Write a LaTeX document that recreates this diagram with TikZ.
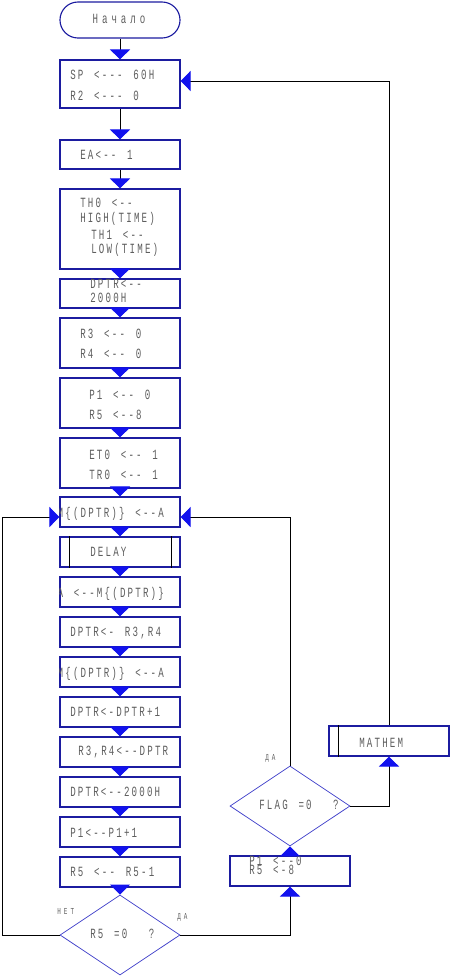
\documentclass[tikz,border=0pt]{standalone}
\usepackage{fontspec}
\usetikzlibrary{arrows.meta,shapes.geometric}
\newfontfamily\flowfont[FakeStretch=0.65,LetterSpace=15.6,WordSpace={1.4,0,0}]{Liberation Mono}
\newfontfamily\startfont[FakeStretch=0.65,LetterSpace=28]{Liberation Mono}
\newfontfamily\tagfont[FakeStretch=0.65,LetterSpace=34]{Liberation Mono}
\definecolor{boxc}{HTML}{1C1CA0}
\definecolor{diac}{HTML}{3A3AC8}
\definecolor{tric}{HTML}{1212EE}
\definecolor{txtc}{HTML}{5E5E5E}

\begin{document}
\begin{tikzpicture}[x=0.025cm, y=-0.025cm,
  blk/.style={draw=boxc, line width=0.8pt, minimum width=3cm, inner sep=0},
  dia/.style={diamond, draw=diac, line width=0.5pt, minimum width=3cm,
              minimum height=2cm, inner sep=0},
  lbl/.style={anchor=west, inner sep=0, color=txtc,
              font=\flowfont\fontsize{10}{12}\selectfont},
  tag/.style={anchor=west, inner sep=0, color=txtc,
              font=\tagfont\fontsize{6.5}{8}\selectfont},
  wire/.style={draw=black, line width=0.7pt},
  flow/.style={wire, -{Triangle[length=0.25cm, width=0.5cm, color=tric]}}]

\useasboundingbox (0,0) rectangle (450,976);

% main column
\node[blk, rounded corners=0.45cm, minimum height=0.9cm] (start) at (120,20) {};
\node[inner sep=0, color=txtc, font=\startfont\fontsize{10}{12}\selectfont]
  (tstart) at (119,19) {Начало};

\foreach \n/\yc/\h in {1/84/48, 2/154.5/29, 3/229/80, 4/293.5/29, 5/343/50,
  6/403/50, 7/463/50, 8/512/30, 9/552/30, 10/592/30, 11/632/30, 12/672/30,
  13/712/30, 14/752/30, 15/792/30, 16/832/30, 17/872/30}{
  \node[blk, minimum height=\h*0.025cm] (b\n) at (120,\yc) {};
}
\node[dia] (d1) at (120,935) {};

% right branch
\node[blk, minimum height=0.75cm] (pr) at (290,871) {};
\node[dia] (d2) at (290,806) {};
\node[blk, minimum height=0.75cm] (mth) at (389,741) {};

\draw[wire] ([xshift=0.25cm]b9.north west) -- ([xshift=0.25cm]b9.south west);
\draw[wire] ([xshift=-0.225cm]b9.north east) -- ([xshift=-0.225cm]b9.south east);
\draw[wire] ([xshift=0.25cm]mth.north west) -- ([xshift=0.25cm]mth.south west);

\foreach \tx/\ty/\s [count=\i] in {%
  70/75/{SP <--- 60H}, 70/96/{R2 <--- 0}, 80/155/{EA<-- 1},
  80/203/{TH0 <--}, 80/219/{HIGH(TIME)}, 91/235/{TH1 <--}, 91/250/{LOW(TIME)},
  90/284/{DPTR<--}, 90/298/{2000H}, 80/334/{R3 <-- 0}, 80/354/{R4 <-- 0},
  89/395/{P1 <-- 0}, 89/415/{R5 <--8}, 89/455/{ET0 <-- 1}, 89/475/{TR0 <-- 1},
  90/552/{DELAY}, 70/633/{DPTR<- R3,R4}, 70/712/{DPTR<-DPTR+1},
  78/752/{R3,R4<--DPTR}, 70/792/{DPTR<--2000H}, 70/833/{P1<--P1+1},
  70/872/{R5 <-- R5-1}, 90/934/{R5 =0\ \ ?}, 259/805/{FLAG =0\ \ ?},
  359/743/{MATHEM}, 249/861/{P1 <--0}, 249/870/{R5 <-8}%
}{
  \node[lbl] (t\i) at (\tx,\ty) {\s};
}

\foreach \bx/\tx/\s in {b8/58/{M\{(DPTR)\} <--A}, b10/59/{A <--M\{(DPTR)\}},
  b12/58/{M\{(DPTR)\} <--A}}{
  \begin{scope}
    \clip (\bx.north west) rectangle (\bx.south east);
    \node[lbl] (t\bx) at ([xshift=-0.05cm,yshift=-0.05cm]\bx.west) {\s};
  \end{scope}
}

\node[tag] (no) at (57,911) {НЕТ};
\node[tag] (yes1) at (177,917) {ДА};
\node[tag] (yes2) at (265,758) {ДА};

% connectors
\draw[flow] (start) -- (b1);
\foreach \a [count=\b from 2] in {1,...,16}{
  \draw[flow] (b\a) -- (b\b);
}
\draw[flow] (b17) -- (d1);

\coordinate (lc) at (2,935);
\draw[flow] (d1.west) -- (lc) |- ([yshift=-0.125cm]b8.west);
\draw[flow] (d1.east) -| (pr.south);
\draw[flow] (pr) -- (d2);
\draw[flow] (d2.north) |- ([yshift=-0.125cm]b8.east);
\draw[flow] (d2.east) -| (mth.south);
\draw[flow] (mth.north) |- ([yshift=0.075cm]b1.east);

\end{tikzpicture}
\end{document}
